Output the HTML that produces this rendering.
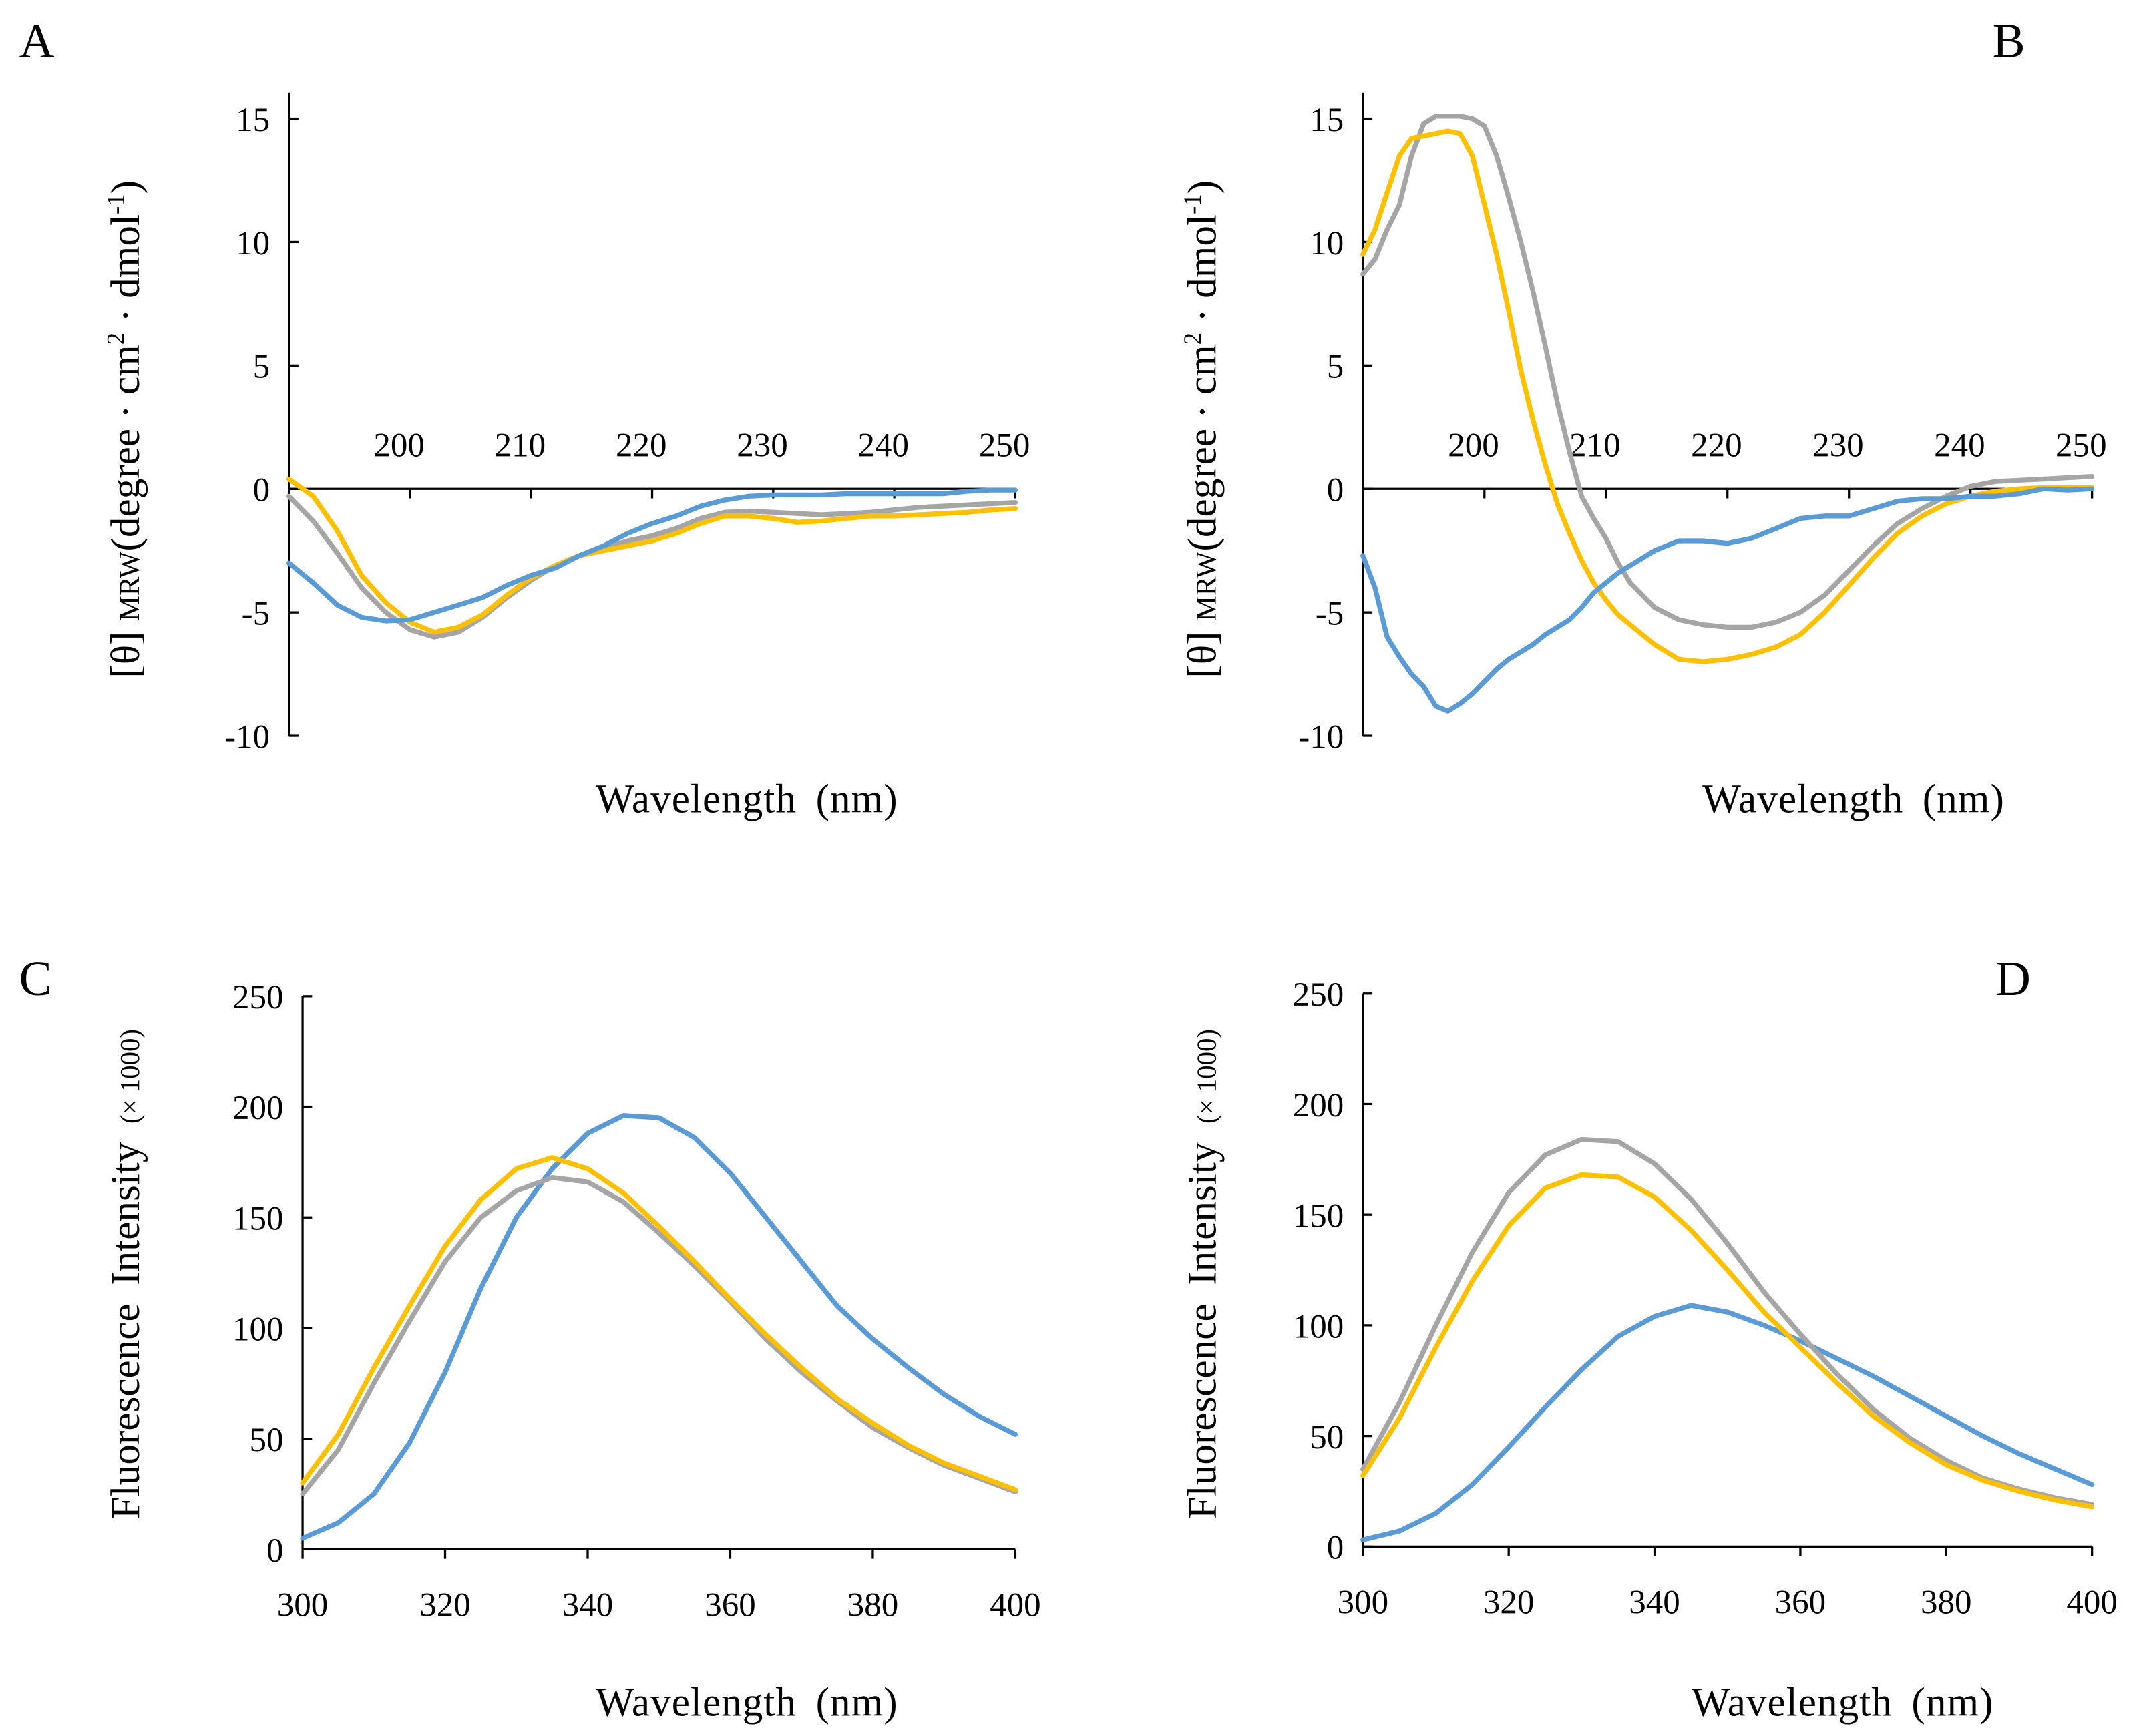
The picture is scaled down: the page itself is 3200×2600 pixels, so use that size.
<!DOCTYPE html>
<html><head><meta charset="utf-8"><style>
html,body{margin:0;padding:0;background:#fff;}
svg{display:block;font-family:"Liberation Serif",serif;}
</style></head><body>
<svg id="fig" width="3200" height="2600" viewBox="0 0 1568 1274" preserveAspectRatio="none" xmlns="http://www.w3.org/2000/svg">
<text x="14" y="42" font-size="36">A</text>
<text x="1462" y="42" font-size="36">B</text>
<text x="14" y="730" font-size="36">C</text>
<text x="1464" y="730" font-size="36">D</text>

<text transform="translate(102,315) rotate(-90)" text-anchor="middle" font-size="30">[θ] <tspan font-size="21">MRW</tspan>(degree · cm<tspan font-size="18" dy="-11">2</tspan><tspan dy="11"> · dmol</tspan><tspan font-size="18" dy="-11">-1</tspan><tspan dy="11">)</tspan></text>
<text transform="translate(892,315) rotate(-90)" text-anchor="middle" font-size="30">[θ] <tspan font-size="21">MRW</tspan>(degree · cm<tspan font-size="18" dy="-11">2</tspan><tspan dy="11"> · dmol</tspan><tspan font-size="18" dy="-11">-1</tspan><tspan dy="11">)</tspan></text>
<text transform="translate(102,935) rotate(-90)" text-anchor="middle" font-size="30" word-spacing="6">Fluorescence Intensity <tspan font-size="20" word-spacing="0">(× 1000)</tspan></text>
<text transform="translate(892,935) rotate(-90)" text-anchor="middle" font-size="30" word-spacing="6">Fluorescence Intensity <tspan font-size="20" word-spacing="0">(× 1000)</tspan></text>

<text x="548" y="596" text-anchor="middle" font-size="30" letter-spacing="0.5" word-spacing="6">Wavelength (nm)</text>
<text x="1360" y="596" text-anchor="middle" font-size="30" letter-spacing="0.5" word-spacing="6">Wavelength (nm)</text>
<text x="548" y="1259" text-anchor="middle" font-size="30" letter-spacing="0.5" word-spacing="6">Wavelength (nm)</text>
<text x="1352" y="1259" text-anchor="middle" font-size="30" letter-spacing="0.5" word-spacing="6">Wavelength (nm)</text>
</svg>
<script>
// ---- Panel A data (CD, units) ----
const cdWlA = [190,192,194,196,198,200,202,204,206,208,210,212,214,216,218,220,222,224,226,228,230,232,234,236,238,240,242,244,246,248,250];
const aBlue = [-3,-3.8,-4.7,-5.2,-5.35,-5.3,-5.0,-4.7,-4.4,-3.9,-3.5,-3.2,-2.7,-2.3,-1.8,-1.4,-1.1,-0.7,-0.45,-0.3,-0.25,-0.25,-0.25,-0.2,-0.2,-0.2,-0.2,-0.2,-0.1,-0.05,-0.05];
const aGray = [-0.3,-1.3,-2.6,-4.0,-5.0,-5.7,-6.0,-5.8,-5.2,-4.4,-3.7,-3.1,-2.7,-2.4,-2.1,-1.9,-1.6,-1.2,-0.95,-0.9,-0.95,-1.0,-1.05,-1.0,-0.95,-0.85,-0.75,-0.7,-0.65,-0.6,-0.55];
const aYellow = [0.4,-0.3,-1.7,-3.5,-4.6,-5.4,-5.8,-5.6,-5.1,-4.3,-3.6,-3.1,-2.7,-2.5,-2.3,-2.1,-1.8,-1.4,-1.1,-1.1,-1.2,-1.35,-1.3,-1.2,-1.1,-1.1,-1.05,-1.0,-0.95,-0.85,-0.8];
// ---- Panel B data ----
const cdWlB = [190,191,192,193,194,195,196,197,198,199,200,201,202,203,204,205,206,207,208,209,210,211,212,214,216,218,220,222,224,226,228,230,232,234,236,238,240,242,244,246,248,250];
const bBlue = [-2.7,-4,-6,-6.8,-7.5,-8,-8.8,-9.0,-8.7,-8.3,-7.8,-7.3,-6.9,-6.6,-6.3,-5.9,-5.6,-5.3,-4.8,-4.2,-3.8,-3.4,-3.1,-2.5,-2.1,-2.1,-2.2,-2.0,-1.6,-1.2,-1.1,-1.1,-0.8,-0.5,-0.4,-0.4,-0.3,-0.3,-0.2,0,-0.05,0];
const bGray = [8.7,9.3,10.5,11.5,13.5,14.8,15.1,15.1,15.1,15.0,14.7,13.5,11.8,10.0,8.0,5.8,3.5,1.5,-0.3,-1.2,-2.0,-3.0,-3.8,-4.8,-5.3,-5.5,-5.6,-5.6,-5.4,-5.0,-4.3,-3.3,-2.3,-1.4,-0.8,-0.3,0.1,0.3,0.35,0.4,0.45,0.5];
const bYellow = [9.5,10.5,12,13.5,14.2,14.3,14.4,14.5,14.4,13.5,11.5,9.5,7.2,4.8,2.8,1.0,-0.6,-1.8,-2.9,-3.8,-4.5,-5.1,-5.5,-6.3,-6.9,-7.0,-6.9,-6.7,-6.4,-5.9,-5.0,-3.9,-2.8,-1.8,-1.1,-0.6,-0.3,-0.1,0,0.05,0.05,0.05];
// ---- Panels C/D data (fluorescence x1000) ----
const flWl = [300,305,310,315,320,325,330,335,340,345,350,355,360,365,370,375,380,385,390,395,400];
const cBlue = [5,12,25,48,80,118,150,172,188,196,195,186,170,150,130,110,95,82,70,60,52];
const cGray = [25,45,75,103,130,150,162,168,166,157,143,128,112,95,80,67,55,46,38,32,26];
const cYellow = [30,52,82,110,137,158,172,177,172,161,146,130,113,97,82,68,57,47,39,33,27];
const dBlue = [3,7,15,28,45,63,80,95,104,109,106,100,93,85,77,68,59,50,42,35,28];
const dGray = [35,65,100,133,160,177,184,183,173,157,137,115,96,78,62,49,39,31,26,22,19];
const dYellow = [32,58,90,120,145,162,168,167,158,143,125,106,90,74,59,47,37,30,25,21,18];
// ticks
const cdYTicks = [15,10,5,0,-5,-10];
const cdXTicks = [200,210,220,230,240,250];
const flYTicks = [0,50,100,150,200,250];
const flXTicks = [300,320,340,360,380,400];

const NS = 'http://www.w3.org/2000/svg';
const svg = document.getElementById('fig');
const COL = {blue:'#5B9BD5', gray:'#A5A5A5', yellow:'#FFC000'};
function mk(tag, attrs){const e=document.createElementNS(NS,tag);for(const k in attrs)e.setAttribute(k,attrs[k]);svg.appendChild(e);return e;}
function lin(d0,d1,r0,r1){return v=>r0+(v-d0)*(r1-r0)/(d1-d0);}

function panel(p){
  const xs=lin(p.xd[0],p.xd[1],p.xr[0],p.xr[1]);
  const ys=lin(p.yd[0],p.yd[1],p.yr[0],p.yr[1]);
  const ya=mk('line',{x1:p.xr[0],x2:p.xr[0],y1:p.yTop,y2:ys(p.yd[0]),stroke:'#000','stroke-width':1.6});
  
  
  p.yt.forEach(v=>{
    const t=mk('line',{x1:p.xr[0],x2:p.xr[0]+7,y1:ys(v),y2:ys(v),stroke:'#000','stroke-width':1.6});
    
    
    const l=mk('text',{x:p.xr[0]-14,y:ys(v)+9,'text-anchor':'end','font-size':25});
    l.textContent=v;
    
    
  });
  const ay=ys(p.xAxisAt);
  const xa=mk('line',{x1:p.xr[0],x2:p.xr[1],y1:ay,y2:ay,stroke:'#000','stroke-width':1.6});
  
  
  p.xt.forEach(v=>{
    const t=mk('line',{x1:xs(v),x2:xs(v),y1:ay,y2:ay+7,stroke:'#000','stroke-width':1.6});
    
    
    const l=mk('text',{x:xs(v)+(p.above?-8:0),y:p.above?ay-24:ay+49,'text-anchor':'middle','font-size':25});
    l.textContent=v;
    
    
  });
  p.series.forEach(s=>{
    const d=p.x.map((w,i)=>(i?'L':'M')+xs(w).toFixed(1)+','+ys(s.v[i]).toFixed(1)).join(' ');
    const path=mk('path',{d:d,fill:'none',stroke:COL[s.c],'stroke-width':3.6,'stroke-linejoin':'round','stroke-linecap':'round'});
    
    
  });
}
panel({id:'a',x:cdWlA,xd:[190,250],xr:[212,745],yd:[-10,15],yr:[540,87],yTop:68,yt:cdYTicks,xt:cdXTicks,xAxisAt:0,above:true,
  series:[{c:'gray',v:aGray},{c:'yellow',v:aYellow},{c:'blue',v:aBlue}]});
panel({id:'b',x:cdWlB,xd:[190,250],xr:[1000,1535],yd:[-10,15],yr:[540,87],yTop:68,yt:cdYTicks,xt:cdXTicks,xAxisAt:0,above:true,
  series:[{c:'gray',v:bGray},{c:'yellow',v:bYellow},{c:'blue',v:bBlue}]});
panel({id:'c',x:flWl,xd:[300,400],xr:[222,745],yd:[0,250],yr:[1137,731],yTop:731,yt:flYTicks,xt:flXTicks,xAxisAt:0,above:false,
  series:[{c:'blue',v:cBlue},{c:'gray',v:cGray},{c:'yellow',v:cYellow}]});
panel({id:'d',x:flWl,xd:[300,400],xr:[1000,1535],yd:[0,250],yr:[1135,729],yTop:729,yt:flYTicks,xt:flXTicks,xAxisAt:0,above:false,
  series:[{c:'blue',v:dBlue},{c:'gray',v:dGray},{c:'yellow',v:dYellow}]});
</script>
</body></html>
